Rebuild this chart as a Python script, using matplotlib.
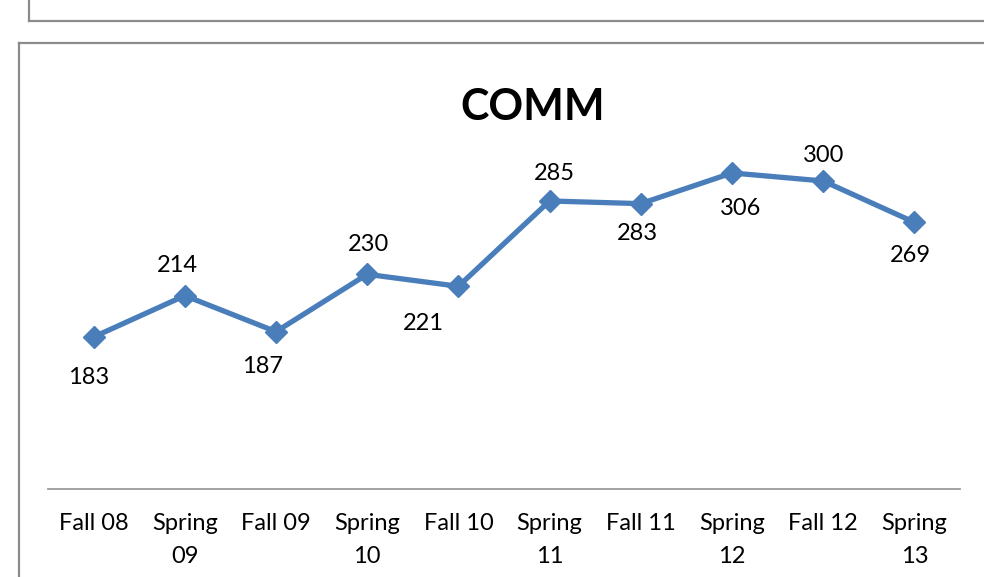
import matplotlib.pyplot as plt
from matplotlib.lines import Line2D

# data
terms = ['Fall 08', 'Spring\n09', 'Fall 09', 'Spring\n10', 'Fall 10',
         'Spring\n11', 'Fall 11', 'Spring\n12', 'Fall 12', 'Spring\n13']
comm = [183, 214, 187, 230, 221, 285, 283, 306, 300, 269]

# label offsets in pixels (dx, dy), as placed in the original
label_off = [(-5, -41), (-7, 30), (-13, -35), (1, 30), (-35, -37),
             (5, 27), (-3, -30), (9, -36), (0, 25), (-4, -33)]

plt.rcParams['font.family'] = ['Lato', 'DejaVu Sans']

W, H = 984, 577
fig = plt.figure(figsize=(W / 100, H / 100), dpi=100)

# frames of the chart boxes (previous box bottom and this one)
gray = '#8a8a8a'
fig.add_artist(Line2D([29 / W, 29 / W], [1, 1 - 20.5 / H], color=gray, lw=1.6))
fig.add_artist(Line2D([29 / W, 1], [1 - 20.5 / H, 1 - 20.5 / H], color=gray, lw=1.6))
fig.add_artist(Line2D([19 / W, 1], [1 - 42.5 / H, 1 - 42.5 / H], color=gray, lw=1.6))
fig.add_artist(Line2D([19 / W, 19 / W], [1 - 42.5 / H, 0], color=gray, lw=1.6))

ax = fig.add_axes([48 / W, 88 / H, 912 / W, (489 - 114.3) / H])
x = range(len(comm))
ax.plot(x, comm, color='#4A7EBB', lw=3.8, marker='D', markersize=11,
        markeredgecolor='#4A7EBB', solid_joinstyle='miter')

for i, v in enumerate(comm):
    dx, dy = label_off[i]
    ax.annotate(str(v), (i, v), xytext=(dx, dy), textcoords='offset pixels',
                ha='center', va='center', fontsize=17, color='black')

ax.set_xlim(-0.5, len(comm) - 0.5)
ax.set_ylim(69, 350)
ax.set_xticks(list(x))
ax.set_xticklabels(terms, fontsize=17, linespacing=1.7)
ax.tick_params(axis='x', length=0, pad=17)
ax.set_yticks([])
for s in ['top', 'right', 'left']:
    ax.spines[s].set_visible(False)
ax.spines['bottom'].set_color('#9a9a9a')
ax.spines['bottom'].set_linewidth(1.3)

fig.text(533 / W, 1 - 107 / H, 'COMM', ha='center', va='center',
         fontsize=31, fontweight='bold')

fig.savefig('out.png', dpi=100)
